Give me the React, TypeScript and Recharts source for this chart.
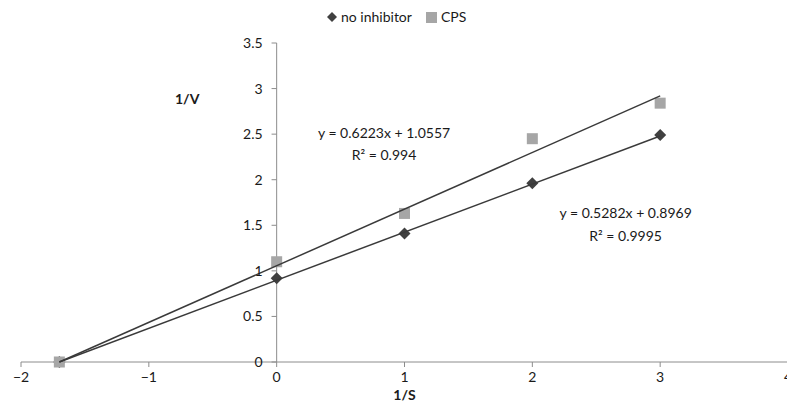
import React from 'react';
import { ScatterChart, Scatter, XAxis, YAxis, ReferenceLine, ReferenceDot } from 'recharts';

const xTicks = [-2, -1, 0, 1, 2, 3, 4];
const yTicks = [0, 0.5, 1, 1.5, 2, 2.5, 3, 3.5];

const seriesNames = ['no inhibitor', 'CPS'];
const seriesColors = ['#404040', '#a6a6a6'];

const noInhibitorX = [-1.7, 0, 1, 2, 3];
const noInhibitorY = [0, 0.92, 1.41, 1.96, 2.49];
const cpsX = [-1.7, 0, 1, 2, 3];
const cpsY = [0, 1.1, 1.63, 2.45, 2.84];

const noInhibitorTrendX = [-1.7, 3];
const noInhibitorTrendY = [0, 2.48];
const cpsTrendX = [-1.7, 3];
const cpsTrendY = [0, 2.92];

const annotationTexts = ['y = 0.6223x + 1.0557', 'R\u00B2 = 0.994', 'y = 0.5282x + 0.8969', 'R\u00B2 = 0.9995', '1/V'];
const annotationX = [0.84, 0.84, 2.73, 2.73, -0.7];
const annotationY = [2.51, 2.27, 1.63, 1.38, 2.89];
const annotationBold = [false, false, false, false, true];

const zip = (xs: number[], ys: number[]) => xs.map((x, i) => ({ x, y: ys[i] }));

const noInhibitorData = zip(noInhibitorX, noInhibitorY);
const cpsData = zip(cpsX, cpsY);
const noInhibitorTrend = zip(noInhibitorTrendX, noInhibitorTrendY);
const cpsTrend = zip(cpsTrendX, cpsTrendY);

const FONT = 'Lato, "Open Sans", sans-serif';
const TEXT = '#1a1a1a';
const AXIS = '#8c8c8c';

const fmtMinus = (v: number) => (v < 0 ? '\u2212' + String(Math.abs(v)) : String(v));

const Diamond = (props: any) => {
  const { cx, cy } = props;
  const s = 6;
  return <polygon points={`${cx},${cy - s} ${cx + s},${cy} ${cx},${cy + s} ${cx - s},${cy}`} fill={seriesColors[0]} />;
};

const Square = (props: any) => {
  const { cx, cy } = props;
  const s = 5.5;
  return <rect x={cx - s} y={cy - s} width={2 * s} height={2 * s} fill={seriesColors[1]} />;
};

const Nothing = () => <g />;

export default function App() {
  return (
    <div style={{ position: 'relative', width: 787, height: 398, fontFamily: FONT }}>
      <div
        style={{
          position: 'absolute',
          left: 318,
          top: 1,
          display: 'flex',
          alignItems: 'center',
          fontSize: 14,
          color: TEXT,
          lineHeight: '16px',
          zIndex: 2,
        }}
      >
        <svg width={12} height={12} style={{ marginRight: 3 }}>
          <polygon points="6,1 11,6 6,11 1,6" fill={seriesColors[0]} />
        </svg>
        <span>{seriesNames[0]}</span>
        <svg width={11} height={11} style={{ marginLeft: 14, marginRight: 4 }}>
          <rect x={0} y={0} width={11} height={11} fill={seriesColors[1]} />
        </svg>
        <span>{seriesNames[1]}</span>
      </div>
      <ScatterChart width={787} height={398} margin={{ top: 35, right: 7, bottom: 4, left: 13 }}>
        <XAxis
          dataKey="x"
          type="number"
          domain={[-2, 4]}
          ticks={xTicks}
          allowDataOverflow
          stroke={AXIS}
          tickSize={5}
          tickMargin={5}
          tickFormatter={fmtMinus}
          tick={{ fill: TEXT, fontSize: 14, fontFamily: FONT }}
          height={40}
          label={{ value: '1/S', position: 'insideBottom', offset: 2, fill: TEXT, fontSize: 14, fontWeight: 'bold', fontFamily: FONT }}
        />
        <YAxis dataKey="y" type="number" domain={[0, 3.5]} ticks={yTicks} hide />
        <ReferenceLine x={0} stroke={AXIS} />
        {yTicks.map((v) => (
          <ReferenceLine
            key={'yt' + v}
            segment={[
              { x: -0.04, y: v },
              { x: 0, y: v },
            ]}
            stroke={AXIS}
          />
        ))}
        {yTicks.map((v) => (
          <ReferenceDot
            key={'yl' + v}
            x={0}
            y={v}
            r={0}
            fill="none"
            stroke="none"
            label={{ value: String(v), position: 'left', offset: 14, fill: TEXT, fontSize: 14, fontFamily: FONT }}
          />
        ))}
        <Scatter name={seriesNames[0]} data={noInhibitorData} shape={Diamond} isAnimationActive={false} />
        <Scatter name={seriesNames[1]} data={cpsData} shape={Square} isAnimationActive={false} />
        <Scatter
          data={noInhibitorTrend}
          shape={Nothing}
          line={{ stroke: '#3a3a3a', strokeWidth: 1.5 }}
          legendType="none"
          isAnimationActive={false}
        />
        <Scatter
          data={cpsTrend}
          shape={Nothing}
          line={{ stroke: '#3a3a3a', strokeWidth: 1.5 }}
          legendType="none"
          isAnimationActive={false}
        />
        {annotationTexts.map((t, i) => (
          <ReferenceDot
            key={'an' + i}
            x={annotationX[i]}
            y={annotationY[i]}
            r={0}
            fill="none"
            stroke="none"
            label={{
              value: t,
              position: 'center',
              fill: TEXT,
              fontSize: 14,
              fontWeight: annotationBold[i] ? 'bold' : 'normal',
              fontFamily: FONT,
            }}
          />
        ))}
      </ScatterChart>
    </div>
  );
}
